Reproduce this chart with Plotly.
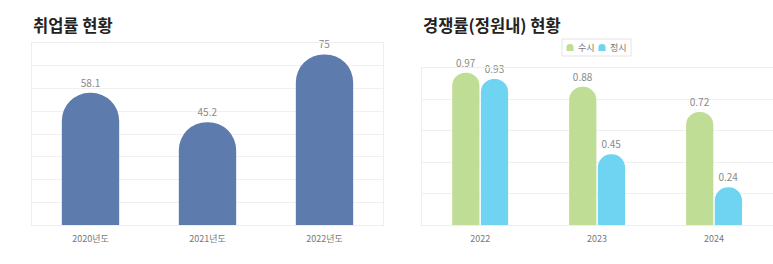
import plotly.graph_objects as go

# Data
emp_years = ["2020년도", "2021년도", "2022년도"]
emp_rate = [58.1, 45.2, 75]

comp_years = ["2022", "2023", "2024"]
susi = [0.97, 0.88, 0.72]
jeongsi = [0.93, 0.45, 0.24]

series_names = ["수시", "정시"]
series_colors = ["#BFDD94", "#6FD3F2"]

title_left = "취업률 현황"
title_right = "경쟁률(정원내) 현황"

FONT = "Noto Sans CJK KR"
GRID = "#f0f0f0"
LABEL = "#8a8a8a"
W, H = 773, 264

fig = go.Figure()

fig.add_trace(go.Bar(
    x=emp_years, y=emp_rate, xaxis="x", yaxis="y",
    marker=dict(color="#5E7BAD", cornerradius="50%", line=dict(width=0)),
    text=[str(v) for v in emp_rate], textposition="outside",
    textfont=dict(color=LABEL, size=10, family=FONT),
    cliponaxis=False, showlegend=False, width=0.49,
))

for name, vals, col in zip(series_names, [susi, jeongsi], series_colors):
    fig.add_trace(go.Bar(
        x=comp_years, y=vals, xaxis="x2", yaxis="y2", name=name,
        marker=dict(color=col, cornerradius="50%", line=dict(width=0)),
        text=[f"{v:.2f}" for v in vals], textposition="outside",
        textfont=dict(color=LABEL, size=10, family=FONT),
        cliponaxis=False, showlegend=False,
    ))

axis_common = dict(showline=True, mirror=True, linecolor="#eeeeee", linewidth=1,
                   zeroline=False, fixedrange=True)

def px(x):
    return x / W

def py(y):
    return (H - y) / H

# custom legend (box, markers, labels)
shapes = [dict(type="rect", xref="paper", yref="paper",
               x0=px(562), x1=px(631), y0=py(56), y1=py(39),
               line=dict(color="#e3e3e3", width=1), fillcolor="white")]
annotations = []
marker_x = [570, 602]
text_x = [586, 618]
for name, col, mx, tx in zip(series_names, series_colors, marker_x, text_x):
    shapes.append(dict(type="path", xref="paper", yref="paper",
                       path=(f"M {px(mx-3.5)},{py(51)} L {px(mx-3.5)},{py(47)} "
                             f"Q {px(mx-3.5)},{py(44)} {px(mx)},{py(44)} "
                             f"Q {px(mx+3.5)},{py(44)} {px(mx+3.5)},{py(47)} "
                             f"L {px(mx+3.5)},{py(51)} Z"),
                       fillcolor=col, line=dict(width=0)))
    annotations.append(dict(text=name, xref="paper", yref="paper",
                            x=px(tx), y=py(47.5), xanchor="center", yanchor="middle",
                            showarrow=False, font=dict(size=9, color="#777", family=FONT)))

annotations += [
    dict(text=f"<b>{title_left}</b>", xref="paper", yref="paper",
         x=px(31), y=py(25), xanchor="left", yanchor="middle",
         showarrow=False, font=dict(size=16.5, color="#222", family=FONT)),
    dict(text=f"<b>{title_right}</b>", xref="paper", yref="paper",
         x=px(421), y=py(25), xanchor="left", yanchor="middle",
         showarrow=False, font=dict(size=16.5, color="#222", family=FONT)),
]

fig.update_layout(
    width=W, height=H,
    margin=dict(l=0, r=0, t=0, b=0),
    paper_bgcolor="white", plot_bgcolor="white",
    font=dict(family=FONT, color="#666"),
    barmode="group", bargap=0.51, bargroupgap=0.05,
    showlegend=False,
    xaxis=dict(domain=[px(32), px(383)], anchor="y", showgrid=False,
               tickfont=dict(size=9, color="#777"), ticks="", ticklabelstandoff=5,
               **axis_common),
    yaxis=dict(domain=[39/H, 221/H], anchor="x", range=[0, 80], dtick=10,
               showgrid=True, gridcolor=GRID, showticklabels=False, **axis_common),
    xaxis2=dict(domain=[px(421.7), px(772.5)], anchor="y2", showgrid=False,
                tickfont=dict(size=9, color="#777"), ticks="", ticklabelstandoff=5,
                **axis_common),
    yaxis2=dict(domain=[39/H, 196/H], anchor="x2", range=[0, 1], dtick=0.2,
                showgrid=True, gridcolor=GRID, showticklabels=False, **axis_common),
    shapes=shapes,
    annotations=annotations,
)

fig.write_html("out.html")
